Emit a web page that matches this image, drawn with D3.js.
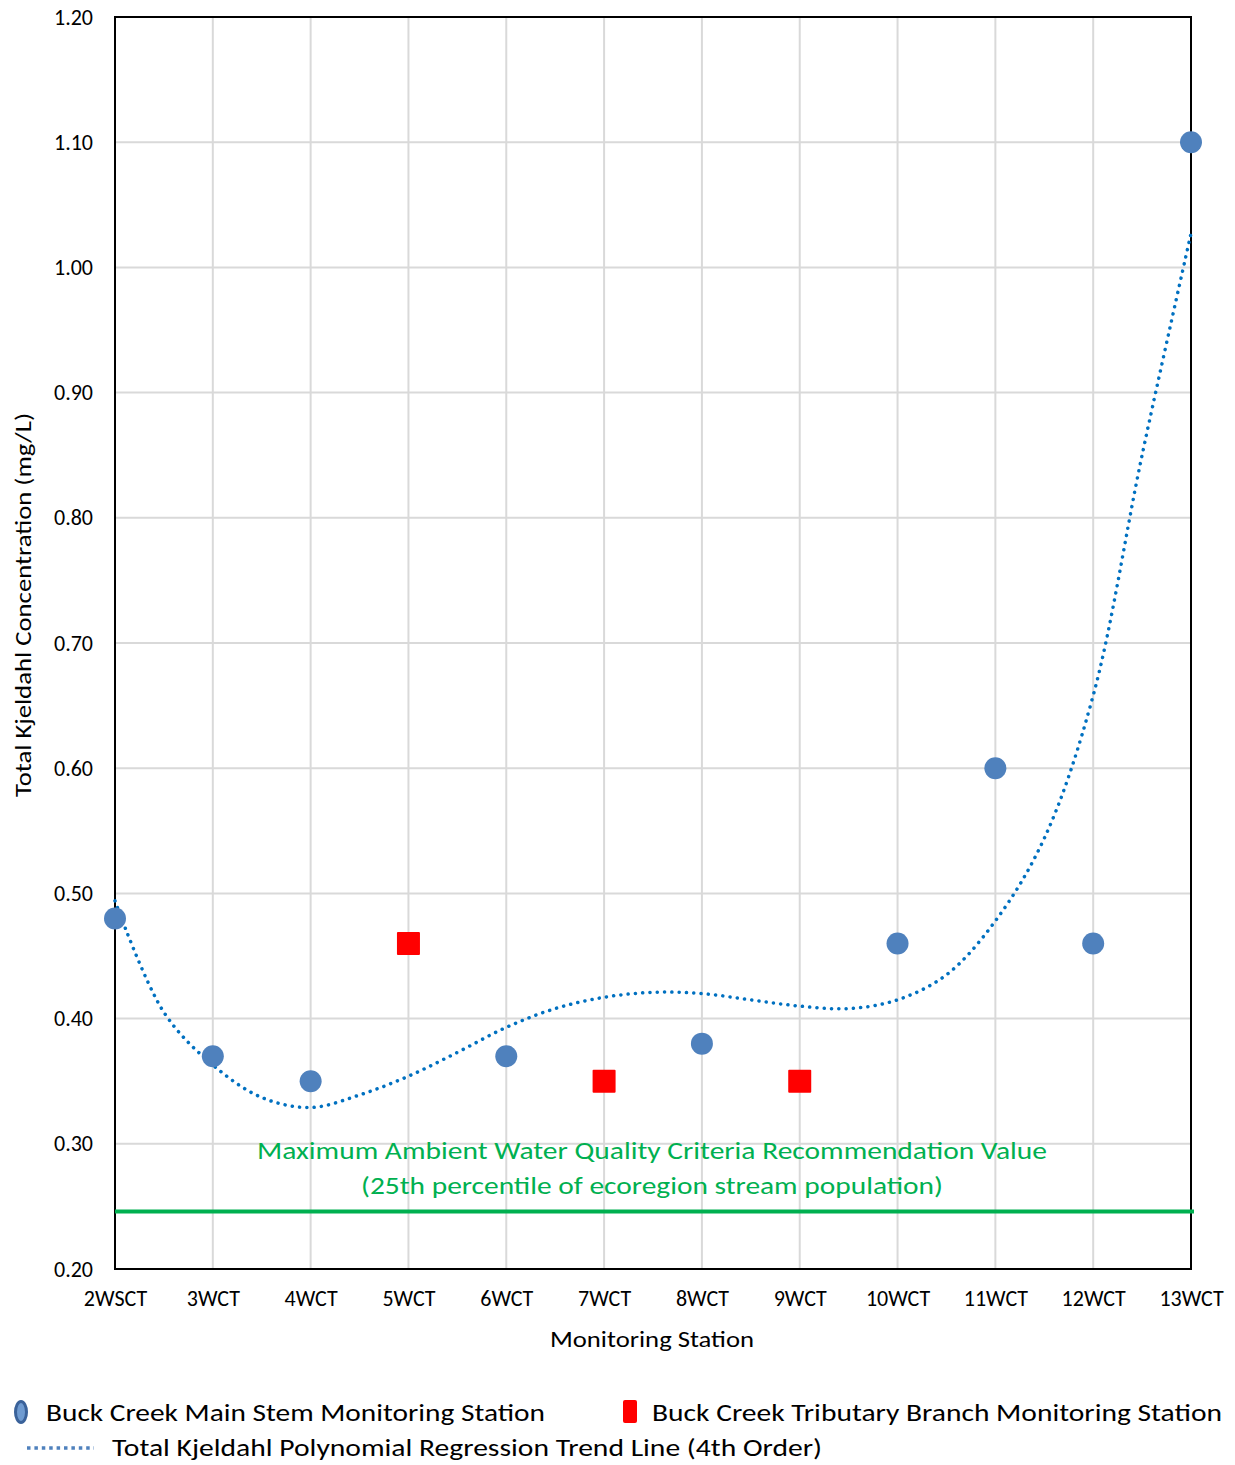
<!DOCTYPE html>
<html><head><meta charset="utf-8">
<script src="https://cdn.jsdelivr.net/npm/d3@7"></script>
<style>body{margin:0;background:#fff}svg{display:block}text{font-family:Carlito,"Open Sans",sans-serif;fill:#000}</style>
</head><body><svg id="c" width="1235" height="1465"></svg>
<script>
const categories = ["2WSCT","3WCT","4WCT","5WCT","6WCT","7WCT","8WCT","9WCT","10WCT","11WCT","12WCT","13WCT"];
const mainStem = [
  {station:"2WSCT", value:0.48},{station:"3WCT", value:0.37},{station:"4WCT", value:0.35},
  {station:"6WCT", value:0.37},{station:"8WCT", value:0.38},{station:"10WCT", value:0.46},
  {station:"11WCT", value:0.60},{station:"12WCT", value:0.46},{station:"13WCT", value:1.10}
];
const tributary = [
  {station:"5WCT", value:0.46},{station:"7WCT", value:0.35},{station:"9WCT", value:0.35}
];
// trend line at half-station steps (station index, value)
const trendIdx = [0,0.5,1,1.5,2,2.5,3,3.5,4,4.5,5,5.5,6,6.5,7,7.5,8,8.5,9,9.5,10,10.5,11];
const trendVal = [0.494,0.405,0.363,0.337,0.329,0.339,0.354,0.373,0.393,0.408,0.417,0.421,0.420,0.415,0.410,0.408,0.415,0.435,0.478,0.544,0.658,0.850,1.027];
const criteriaValue = 0.246;
const yTicks = [0.20,0.30,0.40,0.50,0.60,0.70,0.80,0.90,1.00,1.10,1.20];

const svg = d3.select("#c");
const L=115,R=1191,T=17,B=1269;
const x = d3.scalePoint().domain(categories).range([L,R]);
const xi = d3.scaleLinear().domain([0,categories.length-1]).range([L,R]);
const y = d3.scaleLinear().domain([0.2,1.2]).range([B,T]);

// gridlines
const g = svg.append("g");
g.selectAll("line.h").data(yTicks).join("line")
  .attr("x1",L).attr("x2",R).attr("y1",d=>y(d)).attr("y2",d=>y(d))
  .attr("stroke","#d9d9d9").attr("stroke-width",2);
g.selectAll("line.v").data(categories).join("line")
  .attr("y1",T).attr("y2",B).attr("x1",d=>x(d)).attr("x2",d=>x(d))
  .attr("stroke","#d9d9d9").attr("stroke-width",2);

// axes
const yAxis = d3.axisLeft(y).tickValues(yTicks).tickFormat(d3.format(".2f")).tickSize(0).tickPadding(22);
const ya = svg.append("g").attr("transform",`translate(${L},0)`).call(yAxis);
ya.select(".domain").remove();
ya.selectAll("text").attr("font-size",22).style("font-size","22px");
const xAxis = d3.axisBottom(x).tickSize(0).tickPadding(21);
const xa = svg.append("g").attr("transform",`translate(0,${B})`).call(xAxis);
xa.select(".domain").remove();
xa.selectAll("text").attr("font-size",22).style("font-size","22px");

// frame
svg.append("rect").attr("x",L).attr("y",T).attr("width",R-L).attr("height",B-T)
  .attr("fill","none").attr("stroke","#000").attr("stroke-width",2);

// criteria line and text
svg.append("line").attr("x1",L).attr("x2",R+3).attr("y1",y(criteriaValue)).attr("y2",y(criteriaValue))
  .attr("stroke","#00b050").attr("stroke-width",4);
svg.append("text").attr("x",652).attr("y",1159).attr("text-anchor","middle").attr("font-size",25)
  .attr("textLength",790).attr("lengthAdjust","spacingAndGlyphs").style("fill","#00b050")
  .text("Maximum Ambient Water Quality Criteria Recommendation Value");
svg.append("text").attr("x",652).attr("y",1194).attr("text-anchor","middle").attr("font-size",25)
  .attr("textLength",582).attr("lengthAdjust","spacingAndGlyphs").style("fill","#00b050")
  .text("(25th percentile of ecoregion stream population)");

// trend line
const trend = trendIdx.map((d,i)=>[xi(d), y(trendVal[i])]);
svg.append("path").attr("d", d3.line().curve(d3.curveCatmullRom.alpha(0.5))(trend))
  .attr("fill","none").attr("stroke","#0070c0").attr("stroke-width",3.5)
  .attr("stroke-linecap","round").attr("stroke-dasharray","0.1 7.2");

// markers
svg.selectAll("circle.m").data(mainStem).join("circle")
  .attr("cx",d=>x(d.station)).attr("cy",d=>y(d.value)).attr("r",11).attr("fill","#4f81bd");
svg.selectAll("rect.t").data(tributary).join("rect")
  .attr("x",d=>x(d.station)-11.5).attr("y",d=>y(d.value)-11.5).attr("width",23).attr("height",23)
  .attr("rx",1).attr("fill","#ff0000");

// axis titles
svg.append("text").attr("x",652).attr("y",1347).attr("text-anchor","middle").attr("font-size",22)
  .attr("textLength",204).attr("lengthAdjust","spacingAndGlyphs").text("Monitoring Station");
svg.append("text").attr("transform","translate(31,605) rotate(-90)").attr("text-anchor","middle").attr("font-size",22)
  .attr("textLength",384).attr("lengthAdjust","spacingAndGlyphs").text("Total Kjeldahl Concentration (mg/L)");

// legend
const lg = svg.append("g");
lg.append("ellipse").attr("cx",21).attr("cy",1412).attr("rx",5.5).attr("ry",10.5)
  .attr("fill","#6f9bd1").attr("stroke","#3a629a").attr("stroke-width",3);
lg.append("text").attr("x",46).attr("y",1421).attr("font-size",25)
  .attr("textLength",499).attr("lengthAdjust","spacingAndGlyphs").text("Buck Creek Main Stem Monitoring Station");
lg.append("rect").attr("x",623).attr("y",1400).attr("width",14).attr("height",23).attr("rx",2).attr("fill","#ff0000");
lg.append("text").attr("x",652).attr("y",1421).attr("font-size",25)
  .attr("textLength",570).attr("lengthAdjust","spacingAndGlyphs").text("Buck Creek Tributary Branch Monitoring Station");
lg.append("line").attr("x1",27).attr("x2",94).attr("y1",1448).attr("y2",1448)
  .attr("stroke","#4f81bd").attr("stroke-width",3.5).attr("stroke-dasharray","3.5 3.9");
lg.append("text").attr("x",112).attr("y",1456).attr("font-size",25)
  .attr("textLength",710).attr("lengthAdjust","spacingAndGlyphs").text("Total Kjeldahl Polynomial Regression Trend Line (4th Order)");
</script></body></html>
